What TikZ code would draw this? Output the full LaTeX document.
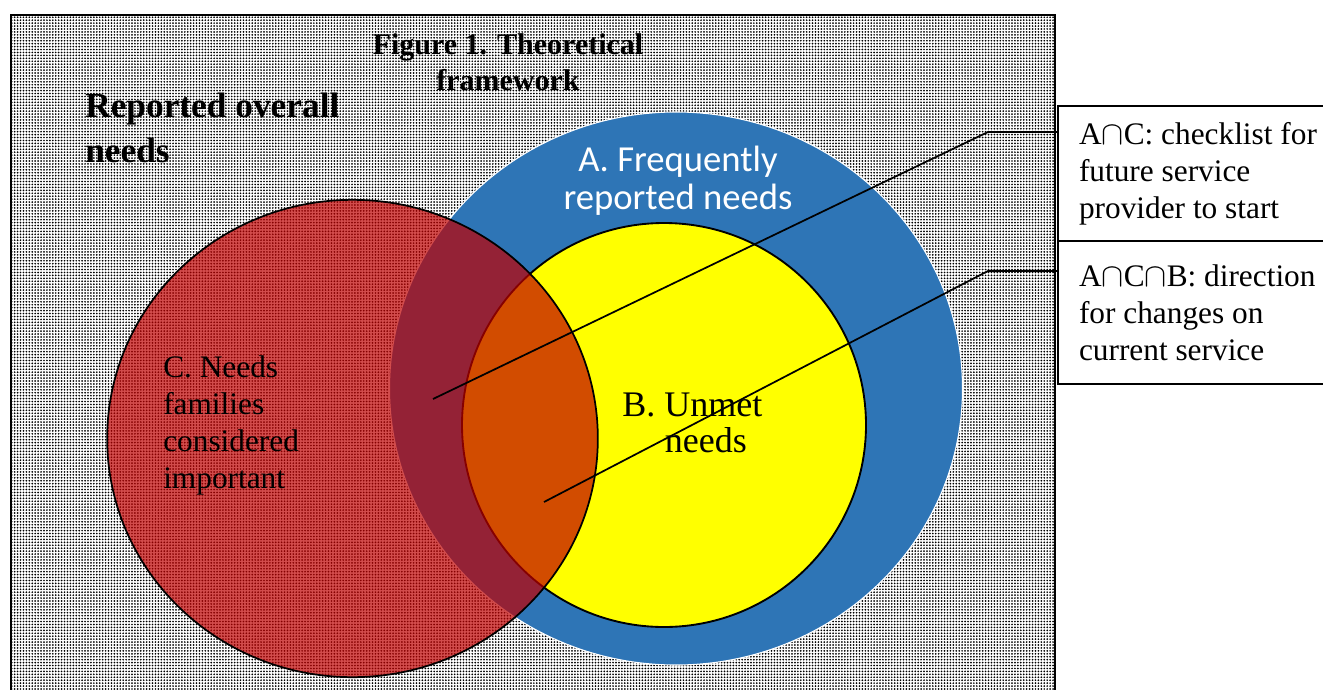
\documentclass[tikz,border=0pt]{standalone}
\usepackage{fontspec}
\setmainfont{Liberation Serif}
\newfontfamily\calibri{Carlito}
\usetikzlibrary{patterns.meta,shapes.geometric}
\definecolor{ablue}{RGB}{46,117,182}
\definecolor{byellow}{RGB}{255,255,0}
\definecolor{cred}{RGB}{192,0,0}
\tikzset{
  bgframe/.style={draw=black, line width=1.5pt, pattern={Dots[distance=2.2pt,radius=0.72pt]}},
  setA/.style={ellipse, fill=ablue, draw=white, line width=0.8pt, inner sep=0pt,
               minimum width=429.75pt, minimum height=414.75pt},
  setB/.style={circle, fill=byellow, draw=black, line width=1.4pt, inner sep=0pt,
               minimum size=303pt},
  setC/.style={ellipse, fill=cred, fill opacity=0.7, draw=black, draw opacity=1,
               line width=1.3pt, inner sep=0pt, minimum width=368pt, minimum height=358pt},
  infobox/.style={draw=black, line width=1.5pt, anchor=north west, fill=white,
                  text width=230pt, align=flush left, inner xsep=15.75pt, inner ysep=0pt,
                  font=\fontsize{23.5}{27.75}\selectfont},
  leader/.style={draw=black, line width=1.3pt},
}
\begin{document}
\begin{tikzpicture}[x=0.75pt,y=-0.75pt]
\useasboundingbox (0,0) rectangle (1323,689);
\begin{scope}
\clip (0,0) rectangle (1323,689);
% background framed dotted panel
\path[bgframe] (11,15) rectangle (1055,710);
% sets
\node[setA] (A) at (676,388.5) {};
\node[setB] (B) at (664,425) {};
\node[setC] (C) at (352.5,438.5) {};
% set labels
\node[text=white, align=center, font=\calibri\fontsize{27.5}{28.5}\selectfont] (Alab) at (678,181) {A. Frequently\\reported needs};
\node[anchor=west, align=flush left, inner sep=0pt, font=\fontsize{27}{27}\selectfont] (Blab) at (622,423) {B. Unmet\\\hspace*{32pt}needs};
\node[anchor=west, align=flush left, inner sep=0pt, font=\fontsize{23.5}{27.75}\selectfont] (Clab) at (163,425) {C. Needs\\families\\considered\\important};
% headings
\node[align=center, font=\bfseries\fontsize{22.5}{27}\selectfont] (title) at (508,62) {Figure 1. Theoretical\\framework};
\node[anchor=west, align=flush left, inner sep=0pt, font=\bfseries\fontsize{26.5}{34}\selectfont] (overall) at (85,128) {Reported overall\\needs};
% info boxes
\node[infobox, minimum height=101.25pt] (box1) at (1057,105) {A$\cap$C: checklist for\\future service\\provider to start};
\node[infobox, minimum height=107.25pt] (box2) at (1057,240) {A$\cap$C$\cap$B: direction\\for changes on\\current service};
% leaders
\coordinate (p1) at (433,399);
\coordinate (e1) at (988,132);
\coordinate (p2) at (544,502);
\coordinate (e2) at (988,271);
\draw[leader] (p1) -- (e1) -- (e1 -| box1.west);
\draw[leader] (p2) -- (e2) -- (e2 -| box2.west);
\end{scope}
\end{tikzpicture}
\end{document}
